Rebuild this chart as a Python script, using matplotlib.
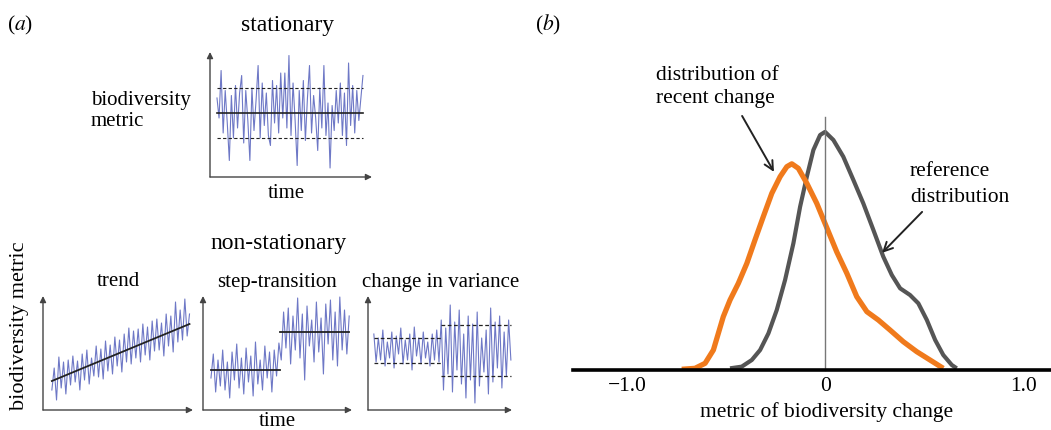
import matplotlib
matplotlib.use("Agg")
import matplotlib.pyplot as plt
import numpy as np

plt.rcParams['font.family'] = ['Liberation Serif', 'DejaVu Serif']
plt.rcParams['mathtext.fontset'] = 'stix'

W, H = 1051, 430

# ---------------- data ----------------
stationary = [0.6, -0.2, 1.7, -0.8, 0.9, -0.4, -1.9, 0.7, -1.0, 1.1, -0.6, 0.8, 1.5, -1.2, 0.9, -0.3,
              -1.9, 1.0, -0.7, 0.5, 1.9, -1.0, 1.2, -0.5, 0.8, -0.9, -1.3, 1.3, -0.4, 1.1, -0.8, 1.6,
              -0.2, 1.6, -0.6, 2.3, -0.9, 1.2, -0.3, -2.1, 0.9, -0.7, 1.3, -1.1, 0.6, 1.9, -0.8, 0.7,
              -0.2, -1.5, 1.0, -0.6, 1.9, -0.9, 0.4, -2.2, 0.3, -0.7, 0.9, -0.4, 1.2, -0.9, 0.8, -1.3,
              2.0, -0.5, 1.1, -0.8, 0.9, -0.3, 0.6, 1.5]
stationary_mean = 0.0
stationary_band = [-1.0, 1.0]

trend = [2.0, 4.2, 1.0, 5.3, 2.2, 4.8, 1.6, 5.0, 2.5, 5.4, 2.8, 4.9, 2.0, 5.6, 3.0, 6.0, 2.6, 5.2,
         3.4, 6.4, 3.3, 6.1, 3.1, 6.9, 3.9, 6.5, 3.6, 7.3, 4.4, 7.0, 3.8, 7.6, 4.8, 8.2, 4.6, 7.9,
         5.2, 8.1, 4.8, 8.6, 5.5, 8.3, 5.0, 8.9, 5.9, 9.1, 6.0, 8.7, 5.4, 9.6, 6.4, 9.4, 5.8, 10.8,
         6.8, 10.0, 7.0, 11.1, 7.4, 9.6]
trend_line_x = [0, 59]
trend_line_y = [2.9, 8.6]

step = [3.2, 5.6, 1.8, 5.0, 2.4, 6.0, 2.0, 4.8, 1.2, 5.8, 3.0, 6.6, 2.2, 5.2, 1.6, 6.2, 2.8, 5.4,
        1.4, 6.8, 2.6, 5.0, 2.0, 6.4, 3.2, 5.8, 1.8, 6.0, 3.4, 6.7,
        5.0, 9.8, 6.2, 10.2, 4.6, 9.4, 6.0, 11.2, 5.2, 9.6, 3.0, 10.4, 6.4, 9.0, 4.8, 10.8, 5.8,
        9.2, 3.6, 10.6, 6.6, 11.0, 5.0, 9.8, 4.4, 11.3, 6.0, 10.0, 5.6, 9.4]
step_break = 29.5
step_levels = [4.0, 7.8]

variance = [7.6, 4.8, 7.2, 5.0, 8.0, 4.4, 6.8, 5.2, 7.8, 4.2, 7.4, 5.6, 8.2, 4.6, 7.0, 5.0, 7.6,
            4.0, 8.3, 5.4, 7.2, 4.6, 7.8, 5.2, 6.8, 4.4, 7.6, 5.0, 8.0, 4.8,
            9.0, 2.0, 8.2, 3.6, 10.5, 1.8, 8.8, 4.0, 10.0, 2.6, 7.6, 1.2, 9.4, 3.0, 8.6, 0.7, 9.8,
            2.4, 7.2, 3.8, 8.0, 1.6, 10.2, 2.8, 8.8, 4.2, 9.4, 2.2, 7.8, 3.4, 9.0, 5.0]
var_break = 30
var_band_low = [4.7, 7.2]
var_band_high = [3.4, 8.5]

ref_x = [-0.480, -0.421, -0.370, -0.328, -0.286, -0.244, -0.202, -0.160, -0.126, -0.092, -0.059,
         -0.025, 0.0, 0.042, 0.092, 0.143, 0.193, 0.244, 0.294, 0.337, 0.379, 0.429, 0.471, 0.514,
         0.556, 0.597, 0.640, 0.665]
ref_y = [0.007, 0.014, 0.042, 0.084, 0.154, 0.252, 0.378, 0.532, 0.686, 0.812, 0.924, 0.987, 1.0,
         0.966, 0.896, 0.798, 0.700, 0.588, 0.476, 0.399, 0.343, 0.315, 0.280, 0.210, 0.126, 0.063,
         0.021, 0.007]
recent_x = [-0.724, -0.657, -0.606, -0.564, -0.539, -0.514, -0.480, -0.438, -0.395, -0.354, -0.312,
            -0.269, -0.227, -0.193, -0.168, -0.135, -0.092, -0.042, 0.009, 0.059, 0.110, 0.160,
            0.211, 0.269, 0.328, 0.395, 0.463, 0.530, 0.597]
recent_y = [0.003, 0.007, 0.028, 0.084, 0.154, 0.224, 0.294, 0.364, 0.448, 0.546, 0.644, 0.742,
            0.812, 0.854, 0.866, 0.847, 0.784, 0.700, 0.597, 0.496, 0.406, 0.308, 0.245, 0.210,
            0.168, 0.119, 0.077, 0.042, 0.007]
b_ticks = [-1.0, 0.0, 1.0]
b_ticklabels = ['\u22121.0', '0', '1.0']

SERIES = '#6e78c6'
DARK = '#222222'
AXC = '#444444'

fig = plt.figure(figsize=(W / 100, H / 100), dpi=100)


def px_axes(x0, y0, x1, y1):
    return fig.add_axes([x0 / W, 1 - y1 / H, (x1 - x0) / W, (y1 - y0) / H])


def ftext(x, y, s, **kw):
    kw.setdefault('ha', 'center')
    kw.setdefault('va', 'center')
    kw.setdefault('fontsize', 15)
    fig.text(x / W, 1 - y / H, s, **kw)


def axis_arrows(ax):
    ap = dict(arrowstyle='-|>', color=AXC, lw=1.0, mutation_scale=9, shrinkA=0, shrinkB=0)
    ax.annotate('', xy=(0, 1), xytext=(0, 0), xycoords='axes fraction', arrowprops=ap,
                annotation_clip=False)
    ax.annotate('', xy=(1, 0), xytext=(0, 0), xycoords='axes fraction', arrowprops=ap,
                annotation_clip=False)
    ax.axis('off')


# ---- stationary ----
ax = px_axes(210, 52, 372, 177)
xs = np.arange(len(stationary))
ax.plot(xs, stationary, color=SERIES, lw=0.8, clip_on=False)
ax.plot([xs[0], xs[-1]], [stationary_mean] * 2, color=DARK, lw=1.2)
for v in stationary_band:
    ax.plot([xs[0], xs[-1]], [v, v], color=DARK, lw=0.8, ls=(0, (3, 2)))
ax.set_xlim(-3.4, 75.4)
ax.set_ylim(-2.56, 2.44)
axis_arrows(ax)

# ---- trend ----
ax = px_axes(43, 296, 193, 410)
xs = np.arange(len(trend))
ax.plot(xs, trend, color=SERIES, lw=0.8, clip_on=False)
ax.plot(trend_line_x, trend_line_y, color=DARK, lw=1.3)
ax.set_xlim(-3.8, 60.5)
ax.set_ylim(0, 11.4)
axis_arrows(ax)

# ---- step ----
ax = px_axes(203, 296, 352, 410)
xs = np.arange(len(step))
ax.plot(xs, step, color=SERIES, lw=0.8, clip_on=False)
ax.plot([0, step_break], [step_levels[0]] * 2, color=DARK, lw=1.3)
ax.plot([step_break, xs[-1]], [step_levels[1]] * 2, color=DARK, lw=1.3)
ax.set_xlim(-3.4, 60.2)
ax.set_ylim(0, 11.4)
axis_arrows(ax)

# ---- variance ----
ax = px_axes(368, 296, 512, 410)
xs = np.arange(len(variance))
ax.plot(xs, variance, color=SERIES, lw=0.8, clip_on=False)
for v in var_band_low:
    ax.plot([0, var_break], [v, v], color=DARK, lw=0.9, ls=(0, (3, 2)))
for v in var_band_high:
    ax.plot([var_break, xs[-1]], [v, v], color=DARK, lw=0.9, ls=(0, (3, 2)))
ax.set_xlim(-2.6, 61.5)
ax.set_ylim(0, 11.4)
axis_arrows(ax)

# ---- panel (a) texts ----
ftext(20, 25, r'($\it{a}$)', fontsize=15.5)
ftext(288, 25, 'stationary', fontsize=17)
ftext(91, 111, 'biodiversity\nmetric', ha='left', fontsize=15, linespacing=1.2)
ftext(286, 193, 'time', fontsize=15)
ftext(279, 244, 'non-stationary', fontsize=17)
ftext(118, 282, 'trend', fontsize=15)
ftext(277, 282, 'step-transition', fontsize=15)
ftext(441, 282, 'change in variance', fontsize=15)
ftext(20, 326, 'biodiversity metric', rotation=90, fontsize=16)
ftext(277, 422, 'time', fontsize=15)

# ---- panel (b) ----
axb = px_axes(573, 100, 1051, 370)
axb.plot(ref_x, ref_y, color='#555555', lw=3.0, solid_capstyle='butt', solid_joinstyle='round')
axb.plot(recent_x, recent_y, color='#f07a1c', lw=3.8, solid_capstyle='butt', solid_joinstyle='round')
axb.plot([0, 0], [0, 1.063], color='#777777', lw=1.0, clip_on=False)
axb.set_xlim(-1.273, 1.141)
axb.set_ylim(0, 1.134)
for s in ['top', 'right', 'left']:
    axb.spines[s].set_visible(False)
axb.spines['bottom'].set_linewidth(2.6)
axb.spines['bottom'].set_color('black')
axb.set_yticks([])
axb.set_xticks(b_ticks)
axb.set_xticklabels(b_ticklabels, fontsize=15.5)
axb.tick_params(axis='x', length=0, pad=5)
axb.patch.set_alpha(0)

ftext(548, 25, r'($\it{b}$)', fontsize=15.5)
ftext(827, 412, 'metric of biodiversity change', fontsize=15.5)
ftext(656, 75, 'distribution of', ha='left', fontsize=15.5)
ftext(656, 99, 'recent change', ha='left', fontsize=15.5)
ftext(910, 171, 'reference', ha='left', fontsize=15.5)
ftext(910, 197, 'distribution', ha='left', fontsize=15.5)

ap = dict(arrowstyle='->', color='#222222', lw=1.4, mutation_scale=16, shrinkA=0, shrinkB=0)
axb.annotate('', xy=(-0.258, 0.832), xytext=(-0.419, 1.067), arrowprops=ap,
             annotation_clip=False)
axb.annotate('', xy=(0.288, 0.492), xytext=(0.49, 0.664), arrowprops=ap,
             annotation_clip=False)

fig.savefig('out.png', dpi=100)
